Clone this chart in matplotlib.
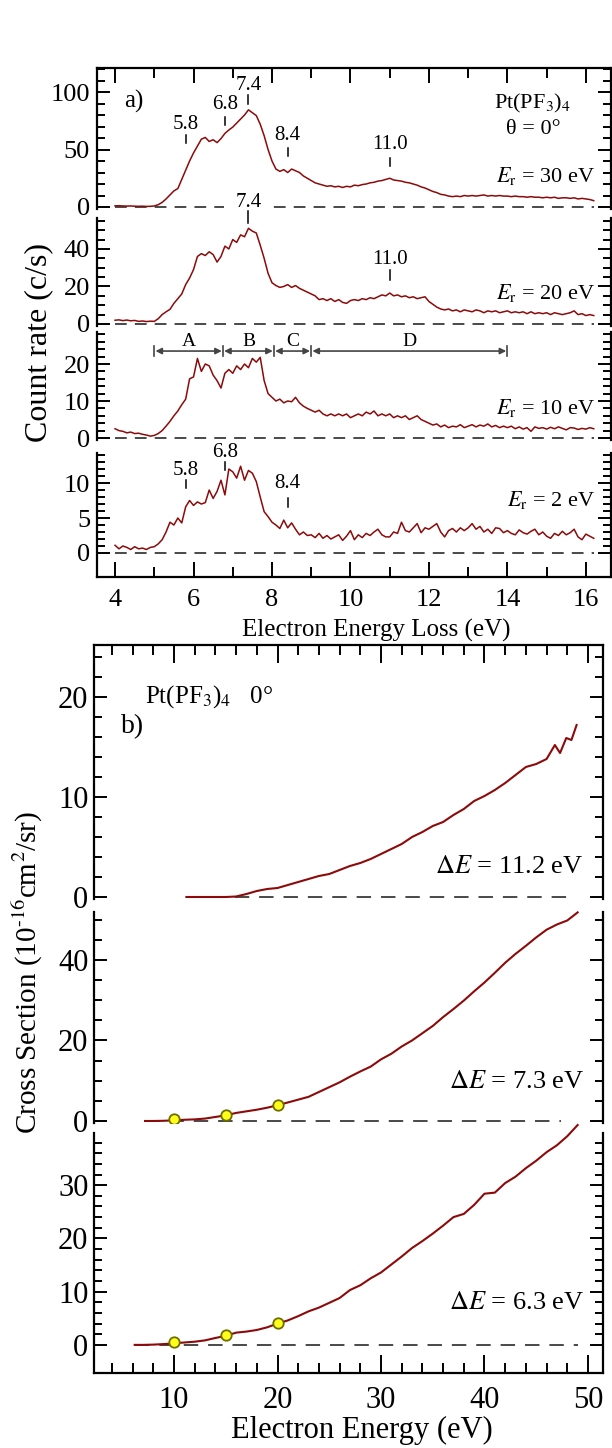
import numpy as np
import matplotlib
matplotlib.use("Agg")
import matplotlib.pyplot as plt
from matplotlib.ticker import FixedLocator

plt.rcParams['font.family'] = ['Liberation Serif', 'DejaVu Serif']
plt.rcParams['mathtext.fontset'] = 'stix'

# ---------------- panel a: energy loss spectra (count rate, c/s) ----------------
loss = np.round(np.linspace(4.0, 16.2, 123), 2)

rate_30 = [1.0, 1.1, 0.9, 0.8, 0.9, 0.7, 0.6, 0.7, 0.5, 0.6,
           0.9, 2.0, 4.0, 7.0, 10.5, 14.0, 16.0, 24.0, 32.0, 40.0,
           47.0, 53.0, 59.0, 60.5, 57.0, 58.5, 56.0, 59.5, 64.0, 67.0,
           69.5, 73.0, 76.5, 80.0, 84.5, 82.0, 79.5, 72.0, 62.0, 50.0,
           40.0, 33.0, 31.0, 32.5, 30.0, 33.0, 31.5, 30.0, 27.0, 25.0,
           23.0, 21.0, 20.0, 19.0, 18.0, 18.5, 17.5, 18.0, 17.0, 18.0,
           17.5, 19.0, 18.5, 19.5, 20.0, 21.0, 21.5, 22.5, 23.0, 24.0,
           25.0, 23.5, 23.0, 22.5, 21.5, 21.0, 20.0, 19.0, 17.5, 16.5,
           15.0, 13.5, 12.5, 11.0, 10.5, 9.5, 9.0, 9.5, 9.0, 10.0,
           9.5, 10.0, 9.5, 10.0, 10.5, 9.5, 10.0, 9.5, 10.0, 9.5,
           9.5, 9.0, 9.5, 9.0, 9.0, 8.5, 9.0, 8.5, 8.5, 8.0,
           8.5, 8.0, 8.5, 7.5, 8.0, 8.0, 7.5, 8.0, 7.0, 7.5,
           7.0, 6.5, 5.5]

rate_20 = [2.0, 2.2, 1.8, 2.1, 1.7, 1.9, 1.4, 1.6, 1.3, 1.5,
           1.4, 2.8, 5.0, 6.5, 7.8, 11.0, 13.5, 16.0, 21.0, 24.5,
           29.0, 36.0, 37.5, 36.5, 38.5, 37.0, 33.0, 36.0, 41.5, 40.0,
           45.0, 43.5, 47.5, 46.5, 51.0, 49.5, 48.5, 42.0, 35.0, 27.0,
           22.0, 20.5, 19.5, 20.0, 21.0, 19.5, 20.5, 19.0, 18.0, 17.0,
           16.0, 15.0, 13.0, 13.5, 12.5, 13.5, 12.0, 13.0, 11.5, 11.0,
           12.5, 13.0, 12.5, 13.5, 13.0, 14.0, 13.5, 14.5, 15.5, 15.0,
           16.5, 15.0, 15.5, 14.5, 15.0, 14.0, 14.5, 13.5, 14.0, 14.5,
           12.0, 10.5, 9.0, 8.0, 7.5, 8.0, 7.0, 7.5, 6.5, 7.5,
           7.0, 6.5, 7.5, 7.0, 6.0, 7.0, 6.5, 7.0, 6.0, 6.5,
           7.0, 6.0, 6.5, 6.0, 6.5, 5.5, 6.5, 5.5, 6.0, 5.5,
           6.0, 5.0, 6.0, 5.5, 5.0, 5.5, 6.0, 7.0, 5.0, 5.5,
           4.5, 5.0, 4.5]

rate_10 = [2.5, 2.0, 1.8, 1.4, 1.6, 1.2, 1.3, 1.0, 0.8, 0.5,
           0.7, 1.2, 2.0, 3.2, 4.5, 6.0, 7.3, 9.0, 10.5, 16.0,
           16.5, 21.5, 18.0, 20.0, 19.5, 17.0, 15.5, 13.5, 17.5, 18.5,
           17.5, 19.5, 18.5, 20.0, 19.0, 21.5, 20.5, 21.8, 15.5, 12.0,
           11.0, 10.0, 10.5, 9.5, 10.0, 9.8, 11.0, 9.5, 8.6, 8.0,
           7.5, 7.0, 7.5, 6.5, 6.0, 6.5, 6.0, 6.5, 6.0, 6.5,
           5.5, 6.0, 6.5, 6.0, 7.0, 6.5, 7.3, 6.0, 6.5, 6.0,
           6.5, 5.5, 6.0, 5.5, 6.0, 5.0, 5.5, 6.0, 5.0, 4.5,
           4.0, 3.5, 3.8, 3.0, 3.5, 2.8, 3.2, 3.0, 3.6, 2.8,
           3.2, 3.6, 3.0, 3.5, 3.2, 3.8, 3.0, 3.4, 2.8, 3.2,
           2.8, 3.2, 2.5, 3.0, 2.4, 2.8, 1.8, 3.0, 2.6, 2.8,
           2.4, 2.9, 2.5, 3.0, 2.6, 2.2, 2.8, 2.7, 2.3, 2.6,
           2.4, 2.8, 2.5]

rate_2 = [1.1, 0.6, 1.0, 0.8, 0.5, 0.9, 0.6, 0.7, 0.5, 0.8,
          0.9, 1.3, 1.9, 3.0, 4.4, 4.0, 5.0, 4.3, 6.6, 7.5,
          6.8, 7.3, 7.0, 7.2, 9.0, 7.8, 8.8, 10.4, 8.3, 12.0,
          11.6, 10.7, 12.4, 10.4, 11.8, 11.4, 10.2, 8.0, 5.9, 5.2,
          4.4, 4.0, 3.5, 4.7, 3.6, 4.3, 3.4, 2.6, 3.0, 2.5,
          2.6, 2.2, 2.8, 2.1, 2.5, 2.0, 2.3, 2.6, 1.8, 2.4,
          3.2, 1.9, 2.6, 2.2, 2.8, 2.5, 3.0, 3.4, 2.6, 2.3,
          2.3, 3.0, 2.8, 4.4, 3.2, 3.0, 3.6, 4.2, 2.9, 3.6,
          3.4, 3.8, 4.2, 3.0, 2.3, 3.2, 3.5, 3.0, 3.6, 3.2,
          3.6, 4.2, 3.4, 3.8, 3.0, 3.4, 2.8, 3.6, 3.5, 2.9,
          3.2, 2.8, 2.6, 3.3, 2.9, 2.7, 3.1, 3.4, 2.6, 3.0,
          2.4, 2.1, 2.8, 2.5, 3.1, 2.6, 2.9, 3.4, 2.3, 1.9,
          2.7, 2.4, 2.1]

er_labels = ['30', '20', '10', '2']
region_edges = [5.0, 6.75, 8.05, 9.0, 14.0]
region_names = ['A', 'B', 'C', 'D']

# ---------------- panel b: cross sections vs electron energy ----------------
e_112 = [11.2, 12, 13, 14, 15, 16, 17, 18, 19, 20, 21, 22, 23, 24, 25, 26, 27, 28,
         29, 30, 31, 32, 33, 34, 35, 36, 37, 38, 39, 40, 41, 42, 43, 44, 45, 46,
         46.8, 47.3, 47.9, 48.4, 48.9]
cs_112 = [0, 0, 0, 0, 0, 0.05, 0.3, 0.6, 0.8, 0.9, 1.2, 1.5, 1.8, 2.1, 2.3, 2.7, 3.1, 3.4,
          3.8, 4.3, 4.8, 5.3, 6.0, 6.5, 7.1, 7.5, 8.2, 8.8, 9.6, 10.1, 10.7, 11.4, 12.2, 13.0,
          13.3, 13.8, 15.2, 14.4, 15.9, 15.7, 17.2]

e_73 = [7.2, 8, 9, 10, 11, 12, 13, 14, 15, 16, 17, 18, 19, 20, 21, 22, 23, 24, 25, 26, 27,
        28, 29, 30, 31, 32, 33, 34, 35, 36, 37, 38, 39, 40, 41, 42, 43, 44, 45, 46, 47, 48, 49]
cs_73 = [0, 0, 0.05, 0.15, 0.3, 0.4, 0.6, 1.0, 1.4, 2.0, 2.4, 2.8, 3.3, 3.9, 4.6, 5.3, 6.0,
         7.2, 8.4, 9.6, 11.0, 12.3, 13.5, 15.3, 16.7, 18.5, 20.0, 21.8, 23.6, 25.8, 27.8, 29.9,
         32.2, 34.4, 36.8, 39.3, 41.5, 43.5, 45.6, 47.5, 48.8, 49.8, 51.8]

e_63 = [6.2, 7, 8, 9, 10, 11, 12, 13, 14, 15, 16, 17, 18, 19, 20, 21, 22, 23, 24, 25, 26,
        27, 28, 29, 30, 31, 32, 33, 34, 35, 36, 37, 38, 39, 40, 41, 42, 43, 44, 45, 46, 47, 48, 49]
cs_63 = [0, 0, 0.05, 0.15, 0.3, 0.45, 0.6, 0.85, 1.3, 1.7, 2.3, 2.5, 2.8, 3.3, 4.0, 4.6, 5.4,
         6.3, 7.0, 7.9, 8.8, 10.3, 11.2, 12.5, 13.6, 15.1, 16.6, 18.2, 19.5, 20.9, 22.4, 24.0,
         24.6, 26.3, 28.4, 28.6, 30.4, 31.6, 33.2, 34.6, 36.2, 37.5, 39.2, 41.3]

pt_e = [10, 15, 20]
pt_73 = [0.5, 1.5, 3.9]
pt_63 = [0.5, 1.8, 4.1]

RED = '#8c0a0a'
DASH = '#3a3a3a'
W, H = 612, 1448

fig = plt.figure(figsize=(W / 100, H / 100), dpi=100)


def add_ax(left, right, top, bottom):
    return fig.add_axes([left / W, 1 - bottom / H, (right - left) / W, (bottom - top) / H])


def style(ax, major, minor, ymax, top=False, bottom=False, big=False):
    ax.spines['top'].set_visible(top)
    ax.spines['bottom'].set_visible(bottom)
    for s in ax.spines.values():
        s.set_linewidth(1.6)
    ax.yaxis.set_major_locator(FixedLocator(np.arange(0, ymax + 0.01, major)))
    ax.yaxis.set_minor_locator(FixedLocator(np.arange(0, ymax + 0.01, minor)))
    fs = 22 if big else 19
    ax.tick_params(axis='y', which='both', direction='in', left=True, right=True,
                   width=1.4, labelsize=fs, pad=4 if big else 5)
    ax.tick_params(axis='y', which='major', length=9.5)
    ax.tick_params(axis='y', which='minor', length=5.5)
    ax.tick_params(axis='x', which='both', direction='in', top=top, bottom=bottom,
                   labelbottom=bottom, width=1.4, labelsize=fs, pad=9)
    ax.tick_params(axis='x', which='major', length=13 if big else 11)
    ax.tick_params(axis='x', which='minor', length=7)
    ax.set_facecolor('none')


# ---- panel a layout (pixels) ----
a_rows = [(68, 209, -1.74, 120.9, 50, 10),
          (218, 326, -1.07, 56.5, 20, 5),
          (332, 440, -0.54, 28.65, 10, 2),
          (453, 577, -3.43, 14.29, 5, 1)]
a_rates = [rate_30, rate_20, rate_10, rate_2]
a_er_y = [27, 16.5, 8.1, 7.6]
axa = []
for i, (t, b, y0, y1, mj, mn) in enumerate(a_rows):
    ax = add_ax(97, 611, t, b)
    ax.set_xlim(3.54, 16.64)
    ax.set_ylim(y0, y1)
    style(ax, mj, mn, y1, top=(i == 0), bottom=(i == 3))
    ax.xaxis.set_major_locator(FixedLocator(np.arange(4, 17, 2)))
    ax.xaxis.set_minor_locator(FixedLocator(np.arange(5, 17, 2)))
    if i == 0:
        ax.xaxis.set_minor_locator(FixedLocator(np.arange(5, 17, 1)))
    ax.plot([4.0, 16.2], [0, 0], color=DASH, lw=1.3, dashes=(6.5, 4.5), zorder=1)
    ax.plot(loss, a_rates[i], color=RED, lw=1.1, zorder=3, clip_on=False)
    ax.text(16.23, a_er_y[i], r'$E_\mathrm{r}$ = ' + er_labels[i] + ' eV',
            ha='right', va='center', fontsize=16)
    axa.append(ax)


def peak(ax, x, y0, y1, ytxt, label, box=False):
    ax.plot([x, x], [y0, y1], color='k', lw=1.1, zorder=6, clip_on=False)
    kw = {}
    if box:
        kw['bbox'] = dict(boxstyle='square,pad=0.55', fc='white', ec='none')
    ax.text(x, ytxt, label, ha='center', va='center', fontsize=15, zorder=5,
            clip_on=False, **kw)


a1, a2, a3, a4 = axa
peak(a1, 5.8, 56, 63, 72, '5.8')
peak(a1, 6.8, 71, 78, 89, '6.8')
peak(a1, 7.4, 90, 97, 106, '7.4')
peak(a1, 8.4, 44, 51, 62, '8.4')
peak(a1, 11.0, 36, 43, 54, '11.0')
peak(a2, 7.4, 54, 60, 64.5, '7.4', box=True)
peak(a2, 11.0, 23.5, 29, 34.5, '11.0')
peak(a4, 5.8, 9.3, 10.4, 11.8, '5.8')
peak(a4, 6.8, 11.9, 13.0, 14.4, '6.8')
peak(a4, 8.4, 6.6, 7.9, 10.0, '8.4')

a1.text(4.23, 92, 'a)', ha='left', va='center', fontsize=18)
a1.text(14.65, 90, r'Pt(PF$_3$)$_4$', ha='center', va='center', fontsize=16)
a1.text(14.65, 67, 'θ = 0°', ha='center', va='center', fontsize=16)

# energy-loss regions A-D
for k, name in enumerate(region_names):
    x0, x1 = region_edges[k], region_edges[k + 1]
    a3.annotate('', xy=(x0 + 0.03, 23.5), xytext=(x1 - 0.03, 23.5),
                arrowprops=dict(arrowstyle='<|-|>', color='#444444', lw=1.2,
                                mutation_scale=9, shrinkA=0, shrinkB=0))
    a3.text((x0 + x1) / 2, 26.2, name, ha='center', va='center', fontsize=14)
for xe in region_edges:
    a3.plot([xe, xe], [22.1, 24.9], color='#444444', lw=1.2)

fig.text(39 / W, 1 - 342 / H, 'Count rate (c/s)', rotation=90, ha='center',
         va='center', fontsize=23)
fig.text(376 / W, 1 - 630 / H, 'Electron Energy Loss (eV)', ha='center',
         va='center', fontsize=18)

# ---- panel b layout (pixels) ----
b_rows = [(645, 899, -0.2, 25.2, 10, 2),
          (912, 1123, -0.5, 51.9, 20, 5),
          (1133, 1373, -5.28, 39.8, 10, 2)]
b_curves = [(e_112, cs_112, 48.2, '11.2', 3.0),
            (e_73, cs_73, 47.4, '7.3', 9.7),
            (e_63, cs_63, 49.0, '6.3', 7.9)]
axb = []
for i, (t, b, y0, y1, mj, mn) in enumerate(b_rows):
    ax = add_ax(94, 603, t, b)
    ax.set_xlim(2.27, 51.45)
    ax.set_ylim(y0, y1)
    style(ax, mj, mn, y1, top=(i == 0), bottom=(i == 2), big=True)
    ax.xaxis.set_major_locator(FixedLocator(np.arange(10, 51, 10)))
    ax.xaxis.set_minor_locator(FixedLocator(np.arange(4, 51, 2)))
    ex, cs, dend, de, ty = b_curves[i]
    ax.plot([ex[0], dend], [0, 0], color=DASH, lw=1.3, dashes=(8, 5.5), zorder=1)
    ax.plot(ex, cs, color=RED, lw=1.5, zorder=3, clip_on=False)
    ax.text(49.6, ty, r'$\Delta E$ = ' + de + ' eV', ha='right', va='center', fontsize=19)
    axb.append(ax)

for ax, pv in [(axb[1], pt_73), (axb[2], pt_63)]:
    ax.plot(pt_e, pv, 'o', ms=7.5, mfc='#ffff1a', mec='#6e6e00', mew=1.3, zorder=4)

axb[0].text(7.2, 20.0, r'Pt(PF$_3$)$_4$   0°', ha='left', va='center', fontsize=18)
axb[0].text(4.88, 17.0, 'b)', ha='left', va='center', fontsize=20)

fig.text(28 / W, 1 - 972 / H, r'Cross Section (10$^{\text{-}16}$cm$^2$/sr)', rotation=90,
         ha='center', va='center', fontsize=21)
fig.text(362 / W, 1 - 1430 / H, 'Electron Energy (eV)', ha='center', va='center',
         fontsize=22)

fig.savefig('out.png', dpi=100)
